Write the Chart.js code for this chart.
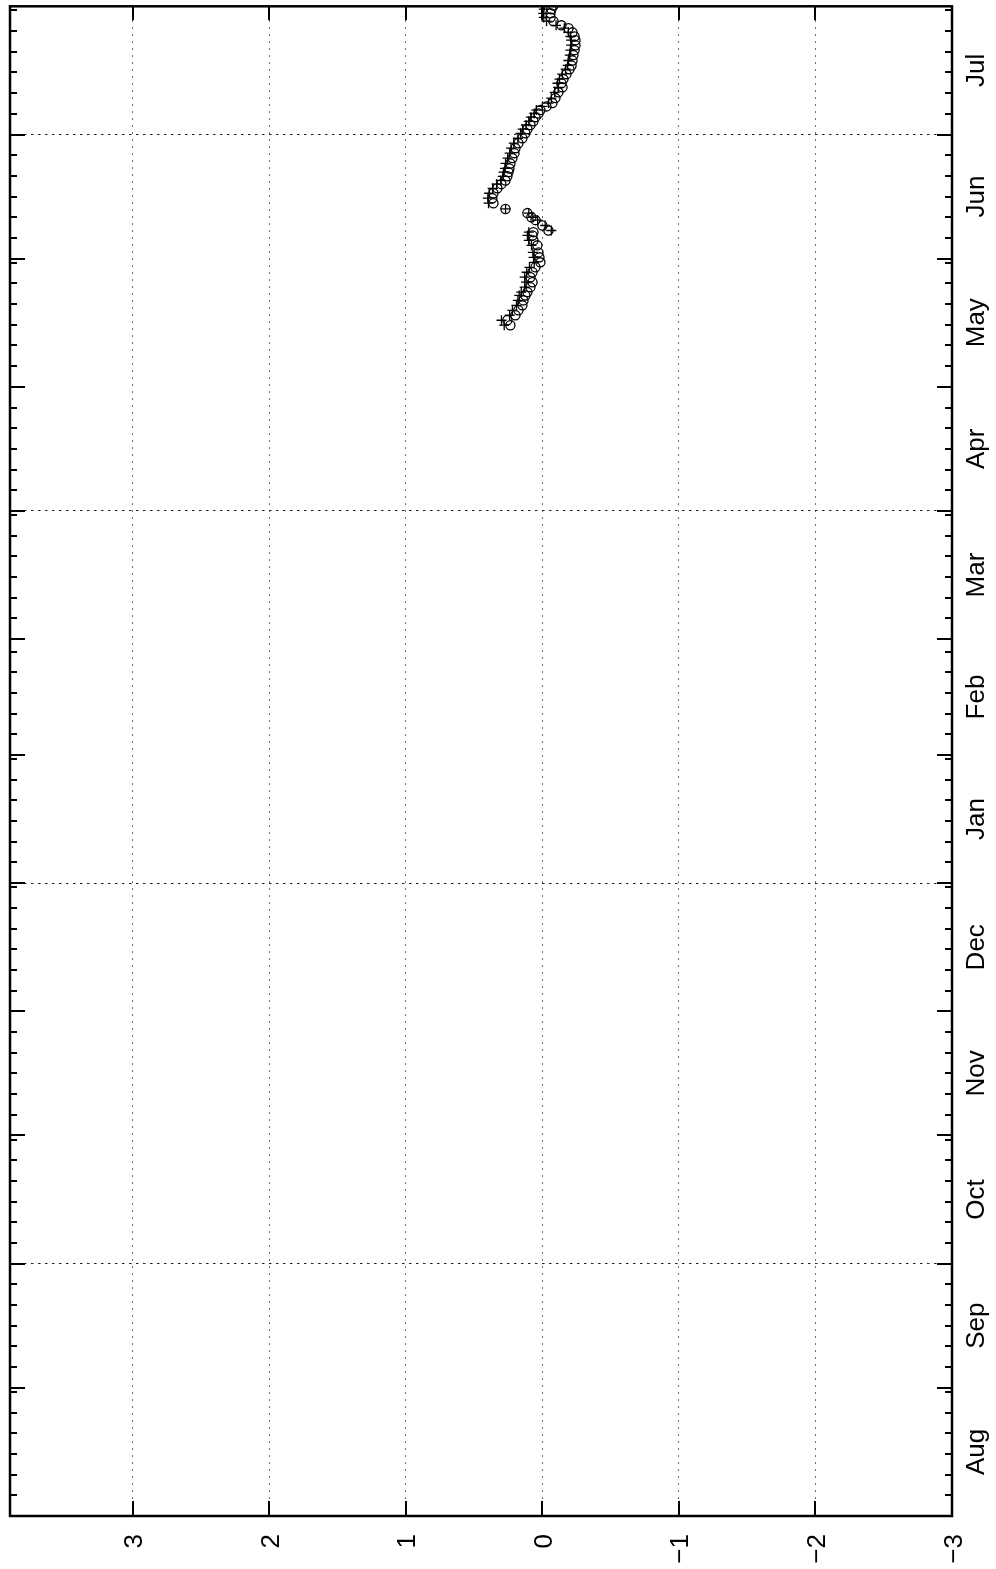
<!DOCTYPE html>
<html>
<head>
<meta charset="utf-8">
<script src="https://cdn.jsdelivr.net/npm/chart.js@4.4.1/dist/chart.umd.min.js"></script>
<style>
  html, body { margin: 0; padding: 0; background: #fff; }
  #wrap { width: 996px; height: 1569px; }
</style>
</head>
<body>
<div id="wrap"><canvas id="chart" width="996" height="1569"></canvas></div>
<script>
// time axis: days counted from 1 Aug, running up; value axis runs right to left.
const monthNames = ['Aug', 'Sep', 'Oct', 'Nov', 'Dec', 'Jan', 'Feb', 'Mar', 'Apr', 'May', 'Jun', 'Jul'];
const monthStarts = [0, 31, 61, 92, 122, 153, 184, 212, 243, 273, 304, 334];
const monthLengths = [31, 30, 31, 30, 31, 31, 28, 31, 30, 31, 30, 31];
const dayGrid = [61, 153, 243, 334];

const valueTicks = [3, 2, 1, 0, -1, -2, -3];
const valueLabels = ['3', '2', '1', '0', '\u22121', '\u22122', '\u22123'];
const valueGrid = [3, 2, 1, 0, -1, -2];

// series 'o'
const circleDays = [
  287.9, 289.1, 290.3, 291.5, 292.7, 293.9, 295.1, 295.9, 297.1, 298.3,
  299.5, 300.7, 301.9, 303.1, 304.3, 305.5, 307.2, 308.4, 309.6, 310.4,
  310.8, 312.0, 313.3, 314.0, 315.0, 316.0,
  317.4, 318.6, 319.8, 321.0, 322.0, 322.9, 323.9, 324.9, 325.8, 327.0,
  328.3, 329.5, 330.7, 331.9, 333.1, 334.3, 335.3, 336.3, 337.2, 338.2,
  339.1, 339.9, 340.8, 341.6, 342.8, 344.2, 345.4, 346.4, 347.4, 348.6,
  349.8, 350.7, 351.9, 353.2, 354.4, 355.6, 356.8, 357.7, 358.7, 359.7,
  360.4, 361.4, 362.3, 363.3, 364.3, 365.2
];
const circleVals = [
  0.235, 0.257, 0.198, 0.176, 0.147, 0.139, 0.125, 0.110, 0.088, 0.073,
  0.088, 0.073, 0.051, 0.015, 0.022, 0.029, 0.037, 0.066, 0.073, 0.066,
  -0.044, 0.000, 0.051, 0.081, 0.110, 0.271,
  0.359, 0.367, 0.359, 0.330, 0.301, 0.271, 0.257, 0.249, 0.242, 0.235,
  0.220, 0.205, 0.198, 0.176, 0.147, 0.125, 0.110, 0.088, 0.066, 0.051,
  0.029, 0.015, -0.029, -0.073, -0.095, -0.117, -0.147, -0.139, -0.154, -0.176,
  -0.198, -0.213, -0.220, -0.227, -0.235, -0.242, -0.242, -0.235, -0.220, -0.191,
  -0.139, -0.081, -0.059, -0.059, -0.066, -0.081
];

// series '+'
const plusDays = circleDays;
const plusVals = [
  0.28, 0.30, 0.24, 0.22, 0.19, 0.18, 0.17, 0.155, 0.13, 0.12,
  0.13, 0.115, 0.095, 0.06, 0.065, 0.07, 0.08, 0.10, 0.11, 0.10,
  -0.065, -0.02, 0.035, 0.07, 0.10, 0.27,
  0.395, 0.40, 0.39, 0.365, 0.335, 0.305, 0.29, 0.285, 0.275, 0.27,
  0.255, 0.24, 0.23, 0.21, 0.18, 0.16, 0.145, 0.12, 0.10, 0.085,
  0.06, 0.045, 0.00, -0.045, -0.065, -0.09, -0.115, -0.11, -0.125, -0.145,
  -0.17, -0.185, -0.19, -0.20, -0.205, -0.21, -0.21, -0.205, -0.19, -0.16,
  -0.10, -0.03, -0.01, -0.005, -0.01, -0.015
];

const FONT = '26px "Liberation Sans", Arial, Helvetica, sans-serif';

// box, inward ticks and rotated labels, all placed via the chart scales
const framePlugin = {
  id: 'frame',
  afterDraw(chart) {
    const ctx = chart.ctx;
    const a = chart.chartArea;
    const xs = chart.scales.x;
    const ys = chart.scales.y;
    ctx.save();
    ctx.strokeStyle = '#000';
    ctx.lineWidth = 2.5;
    ctx.strokeRect(a.left, a.top, a.right - a.left, a.bottom - a.top);

    ctx.lineWidth = 2;
    ctx.beginPath();
    for (const v of valueGrid) {
      const px = Math.round(xs.getPixelForValue(v));
      ctx.moveTo(px, a.bottom); ctx.lineTo(px, a.bottom - 15);
      ctx.moveTo(px, a.top); ctx.lineTo(px, a.top + 14);
    }
    monthStarts.forEach((s, i) => {
      if (s > 0) {
        const py = Math.round(ys.getPixelForValue(s));
        ctx.moveTo(a.left, py); ctx.lineTo(a.left + 15, py);
        ctx.moveTo(a.right, py); ctx.lineTo(a.right - 15, py);
      }
      for (let d = 6; d <= monthLengths[i]; d += 5) {
        const py = Math.round(ys.getPixelForValue(s + d - 1));
        ctx.moveTo(a.left, py); ctx.lineTo(a.left + 7, py);
        ctx.moveTo(a.right, py); ctx.lineTo(a.right - 7, py);
      }
    });
    ctx.stroke();

    ctx.fillStyle = '#000';
    ctx.font = FONT;
    valueTicks.forEach((v, i) => {
      const px = xs.getPixelForValue(v);
      ctx.save();
      ctx.translate(px + 9.5, a.bottom + 18);
      ctx.rotate(-Math.PI / 2);
      ctx.textAlign = 'right';
      ctx.textBaseline = 'alphabetic';
      ctx.fillText(valueLabels[i], 0, 0);
      ctx.restore();
    });
    monthNames.forEach((m, i) => {
      const py = ys.getPixelForValue(monthStarts[i] + monthLengths[i] / 2);
      ctx.save();
      ctx.translate(a.right + 32, py);
      ctx.rotate(-Math.PI / 2);
      ctx.textAlign = 'center';
      ctx.textBaseline = 'alphabetic';
      ctx.fillText(m, 0, 0);
      ctx.restore();
    });
    ctx.restore();
  }
};

new Chart(document.getElementById('chart').getContext('2d'), {
  type: 'scatter',
  data: {
    datasets: [
      {
        label: 'o',
        data: circleDays.map((d, i) => ({ x: circleVals[i], y: d })),
        pointStyle: 'circle',
        pointRadius: 4.6,
        borderWidth: 1.3,
        borderColor: '#000',
        backgroundColor: 'rgba(0,0,0,0)',
        showLine: false,
      },
      {
        label: '+',
        data: plusDays.map((d, i) => ({ x: plusVals[i], y: d })),
        pointStyle: 'cross',
        pointRadius: 5,
        borderWidth: 1.3,
        borderColor: '#000',
        backgroundColor: '#000',
        showLine: false,
      },
    ],
  },
  options: {
    responsive: false,
    animation: false,
    devicePixelRatio: 1,
    layout: { padding: { left: 10, top: 6, right: 44, bottom: 53 } },
    plugins: { legend: { display: false }, tooltip: { enabled: false } },
    scales: {
      x: {
        type: 'linear',
        reverse: true,
        min: -3,
        max: 3.9,
        ticks: { display: false },
        grid: { color: '#444', lineWidth: 1, drawTicks: false },
        border: { display: false, dash: [1.5, 5.5] },
        afterBuildTicks(s) { s.ticks = valueGrid.map(v => ({ value: v })); },
        afterFit(s) { s.height = 0; },
      },
      y: {
        type: 'linear',
        position: 'right',
        min: 0,
        max: 365,
        ticks: { display: false },
        grid: { color: '#222', lineWidth: 1, drawTicks: false },
        border: { display: false, dash: [2.5, 4.5] },
        afterBuildTicks(s) { s.ticks = dayGrid.map(v => ({ value: v })); },
        afterFit(s) { s.width = 0; },
      },
    },
  },
  plugins: [framePlugin],
});
</script>
</body>
</html>
